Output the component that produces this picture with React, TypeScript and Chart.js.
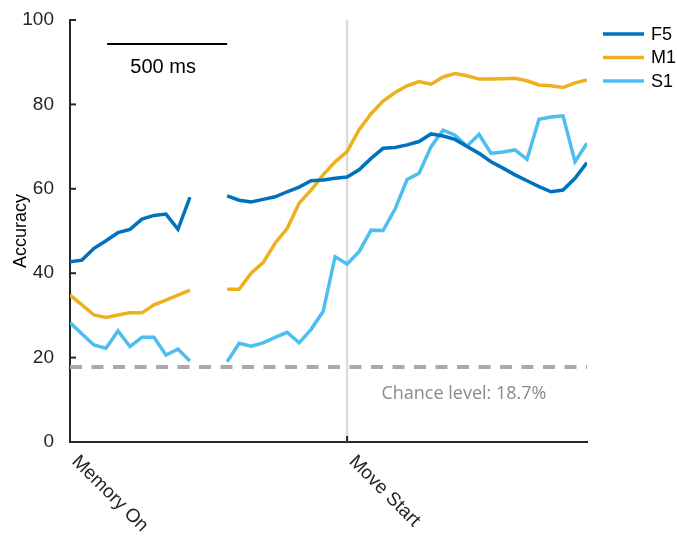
import React, { useEffect, useRef } from 'react';
import { Chart, registerables } from 'chart.js';

Chart.register(...registerables);

// ---- data ----
const MEMORY_TIMES = [0, 50, 100, 150, 200, 250, 300, 350, 400, 450, 500];
const MOVE_TIMES = [
  -500, -450, -400, -350, -300, -250, -200, -150, -100, -50,
  0, 50, 100, 150, 200, 250, 300, 350, 400, 450, 500,
  550, 600, 650, 700, 750, 800, 850, 900, 950, 1000,
];
const MOVE_ONSET = 1155; // axis position (ms) of movement start
const X_MAX = 2155;
const X_TICK_VALUES = [0, MOVE_ONSET];
const X_TICK_LABELS = ['Memory On', 'Move Start'];
const Y_TICKS = [0, 20, 40, 60, 80, 100];

const SERIES_NAMES = ['F5', 'M1', 'S1'];
const SERIES_COLORS = ['#0072BD', '#EDB120', '#4DBEEE'];

const F5_MEMORY = [42.7, 43.1, 45.9, 47.7, 49.6, 50.4, 52.8, 53.7, 54.0, 50.4, 58.0];
const M1_MEMORY = [34.8, 32.5, 30.1, 29.5, 30.1, 30.6, 30.6, 32.5, 33.6, 34.8, 36.0];
const S1_MEMORY = [28.3, 25.6, 23.0, 22.2, 26.3, 22.6, 24.8, 24.8, 20.6, 22.0, 19.2];

const F5_MOVE = [58.3, 57.3, 56.9, 57.5, 58.1, 59.3, 60.4, 61.9, 62.1, 62.5, 62.8, 64.5, 67.2, 69.6, 69.8, 70.4, 71.2, 73.0, 72.5, 71.7, 70.0, 68.4, 66.4, 64.9, 63.3, 61.9, 60.5, 59.3, 59.7, 62.5, 66.2];
const M1_MOVE = [36.2, 36.2, 40.0, 42.5, 47.1, 50.6, 56.6, 59.7, 63.3, 66.4, 68.8, 74.0, 77.8, 80.8, 82.8, 84.4, 85.4, 84.8, 86.5, 87.3, 86.8, 86.0, 86.0, 86.1, 86.2, 85.6, 84.6, 84.4, 84.0, 85.1, 85.8];
const S1_MOVE = [19.0, 23.4, 22.7, 23.5, 24.8, 26.0, 23.5, 26.7, 30.9, 43.9, 42.2, 45.1, 50.2, 50.1, 55.2, 62.2, 63.7, 70.0, 73.9, 72.7, 70.1, 72.9, 68.4, 68.7, 69.2, 67.0, 76.5, 77.0, 77.3, 66.4, 70.8];

const CHANCE_LINE = 17.8;
const CHANCE_LABEL = 'Chance level: 18.7%';
const CHANCE_LABEL_POS = { x: 1642, y: 11.4 };
const SCALE_BAR = { start: 155, length: 500, y: 94.3, label: '500 ms' };

const MEMORY_SERIES = [F5_MEMORY, M1_MEMORY, S1_MEMORY];
const MOVE_SERIES = [F5_MOVE, M1_MOVE, S1_MOVE];

const FONT = '"Liberation Sans", Arial, Helvetica, sans-serif';

function buildPoints(mem: number[], move: number[]) {
  const pts: { x: number; y: number | null }[] = [];
  MEMORY_TIMES.forEach((t, i) => pts.push({ x: t, y: mem[i] }));
  pts.push({ x: (MEMORY_TIMES[MEMORY_TIMES.length - 1] + MOVE_ONSET + MOVE_TIMES[0]) / 2, y: null });
  MOVE_TIMES.forEach((t, i) => pts.push({ x: MOVE_ONSET + t, y: move[i] }));
  return pts;
}

const overlayPlugin = {
  id: 'overlay',
  beforeDatasetsDraw(chart: any) {
    const { ctx, chartArea, scales } = chart;
    const x = scales.x.getPixelForValue(MOVE_ONSET);
    ctx.save();
    ctx.strokeStyle = '#dcdcdc';
    ctx.lineWidth = 2.5;
    ctx.beginPath();
    ctx.moveTo(x, chartArea.top);
    ctx.lineTo(x, chartArea.bottom);
    ctx.stroke();
    ctx.restore();
  },
  afterDraw(chart: any) {
    const { ctx, chartArea, scales } = chart;
    const xs = scales.x;
    const ys = scales.y;
    ctx.save();
    // inward tick marks
    ctx.strokeStyle = '#262626';
    ctx.lineWidth = 2;
    Y_TICKS.forEach((v) => {
      const y = ys.getPixelForValue(v);
      ctx.beginPath();
      ctx.moveTo(chartArea.left, y);
      ctx.lineTo(chartArea.left + 6, y);
      ctx.stroke();
    });
    X_TICK_VALUES.forEach((v) => {
      const x = xs.getPixelForValue(v);
      ctx.beginPath();
      ctx.moveTo(x, chartArea.bottom);
      ctx.lineTo(x, chartArea.bottom - 6);
      ctx.stroke();
    });
    // rotated x labels
    ctx.fillStyle = '#262626';
    ctx.font = `19px ${FONT}`;
    ctx.textAlign = 'left';
    ctx.textBaseline = 'top';
    X_TICK_VALUES.forEach((v, i) => {
      const x = xs.getPixelForValue(v);
      ctx.save();
      ctx.translate(x + 11.5, chartArea.bottom + 10);
      ctx.rotate(Math.PI / 4);
      ctx.fillText(X_TICK_LABELS[i], 0, 0);
      ctx.restore();
    });
    // scale bar
    const bx0 = xs.getPixelForValue(SCALE_BAR.start);
    const bx1 = xs.getPixelForValue(SCALE_BAR.start + SCALE_BAR.length);
    const by = ys.getPixelForValue(SCALE_BAR.y);
    ctx.strokeStyle = '#000';
    ctx.lineWidth = 2;
    ctx.beginPath();
    ctx.moveTo(bx0, by);
    ctx.lineTo(bx1, by);
    ctx.stroke();
    ctx.fillStyle = '#000';
    ctx.font = `20px ${FONT}`;
    ctx.textAlign = 'center';
    ctx.textBaseline = 'middle';
    ctx.fillText(SCALE_BAR.label, (bx0 + bx1) / 2 - 4, by + 23);
    // chance label
    ctx.fillStyle = '#8a8a8a';
    ctx.font = '18px "Open Sans", sans-serif';
    ctx.fillText(CHANCE_LABEL, xs.getPixelForValue(CHANCE_LABEL_POS.x), ys.getPixelForValue(CHANCE_LABEL_POS.y));
    // legend
    ctx.font = `18px ${FONT}`;
    ctx.textAlign = 'left';
    SERIES_NAMES.forEach((name, i) => {
      const y = chartArea.top + 14 + i * 23.5;
      ctx.strokeStyle = SERIES_COLORS[i];
      ctx.lineWidth = 3.5;
      ctx.beginPath();
      ctx.moveTo(chartArea.right + 16, y);
      ctx.lineTo(chartArea.right + 57, y);
      ctx.stroke();
      ctx.fillStyle = '#000';
      ctx.fillText(name, chartArea.right + 64, y + 1);
    });
    ctx.restore();
  },
};

export default function App() {
  const canvasRef = useRef<HTMLCanvasElement | null>(null);

  useEffect(() => {
    const canvas = canvasRef.current;
    if (!canvas) return;
    const datasets: any[] = SERIES_NAMES.map((name, i) => ({
      label: name,
      data: buildPoints(MEMORY_SERIES[i], MOVE_SERIES[i]),
      borderColor: SERIES_COLORS[i],
      backgroundColor: SERIES_COLORS[i],
      borderWidth: 3.5,
      pointRadius: 0,
      tension: 0,
      spanGaps: false,
      order: 1,
    }));
    datasets.push({
      label: 'chance',
      data: [
        { x: 0, y: CHANCE_LINE },
        { x: X_MAX, y: CHANCE_LINE },
      ],
      borderColor: '#aaaaaa',
      borderWidth: 4,
      borderDash: [12, 9.5],
      pointRadius: 0,
      order: 2,
    });

    const chart = new Chart(canvas, {
      type: 'line',
      data: { datasets },
      plugins: [overlayPlugin],
      options: {
        animation: false,
        responsive: false,
        devicePixelRatio: 1,
        events: [],
        layout: { padding: { left: 0, top: 20, right: 90, bottom: 0 } },
        plugins: { legend: { display: false }, tooltip: { enabled: false } },
        scales: {
          x: {
            type: 'linear',
            min: 0,
            max: X_MAX,
            ticks: { display: false },
            grid: { display: false },
            border: { display: true, color: '#262626', width: 2 },
            afterFit: (scale: any) => {
              scale.height = 98;
            },
          },
          y: {
            min: 0,
            max: 100,
            ticks: {
              stepSize: 20,
              padding: 8,
              color: '#262626',
              font: { family: FONT, size: 19 },
            },
            grid: { display: false },
            border: { display: true, color: '#262626', width: 2 },
            title: {
              display: true,
              text: 'Accuracy',
              color: '#000',
              font: { family: FONT, size: 18 },
              padding: { top: 10, bottom: 0 },
            },
            afterFit: (scale: any) => {
              scale.width = 70;
            },
          },
        },
      },
    });
    return () => chart.destroy();
  }, []);

  return (
    <div style={{ position: 'fixed', left: 0, top: 0, width: 677, height: 540, background: '#fff' }}>
      <canvas ref={canvasRef} width={677} height={540} />
    </div>
  );
}
